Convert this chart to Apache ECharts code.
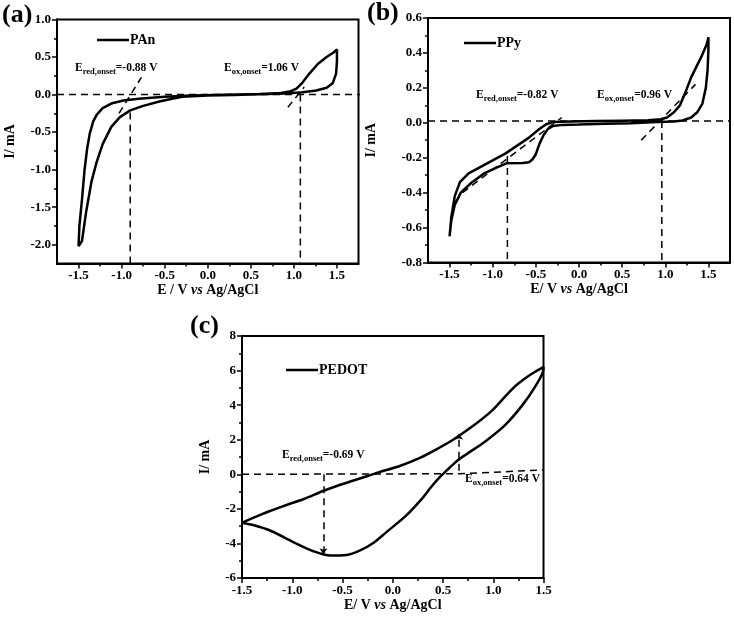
<!DOCTYPE html>
<html><head><meta charset="utf-8">
<script src="https://cdn.jsdelivr.net/npm/echarts@6/dist/echarts.min.js"></script>
<style>html,body{margin:0;padding:0;background:#fff}#c{width:734px;height:625px}</style>
</head><body><div id="c"></div>
<script>
// ---------- data (E / V, I / mA) ----------
const panCurve = [
[-1.50,-2.02],[-1.49,-1.75],[-1.46,-1.40],[-1.43,-1.00],[-1.40,-0.72],[-1.37,-0.52],[-1.33,-0.36],[-1.29,-0.27],[-1.22,-0.18],[-1.12,-0.12],[-0.98,-0.08],[-0.80,-0.055],[-0.50,-0.03],[-0.20,-0.013],[0.20,-0.003],[0.60,0.007],[0.85,0.02],[0.95,0.04],[1.03,0.08],[1.10,0.16],[1.18,0.28],[1.28,0.41],[1.38,0.50],[1.46,0.56],[1.50,0.60],
[1.50,0.45],[1.49,0.28],[1.45,0.15],[1.38,0.09],[1.26,0.055],[1.10,0.03],[0.90,0.015],[0.60,0.003],[0.30,-0.005],[0.00,-0.012],[-0.30,-0.028],[-0.55,-0.09],[-0.75,-0.15],[-0.90,-0.21],[-1.02,-0.30],[-1.12,-0.43],[-1.22,-0.66],[-1.29,-0.90],[-1.35,-1.16],[-1.41,-1.55],[-1.46,-1.95],[-1.50,-2.02]];
const ppyCurve = [
[-1.50,-0.65],[-1.48,-0.54],[-1.44,-0.42],[-1.38,-0.34],[-1.28,-0.29],[-1.15,-0.255],[-1.00,-0.215],[-0.85,-0.175],[-0.70,-0.125],[-0.58,-0.085],[-0.46,-0.036],[-0.38,-0.008],[-0.30,0.004],[-0.10,0.008],[0.20,0.010],[0.50,0.012],[0.80,0.014],[0.95,0.020],[1.02,0.030],[1.10,0.060],[1.17,0.100],[1.23,0.170],[1.30,0.260],[1.36,0.320],[1.42,0.380],[1.48,0.450],[1.50,0.490],
[1.50,0.42],[1.49,0.30],[1.47,0.20],[1.43,0.11],[1.37,0.06],[1.30,0.03],[1.20,0.013],[1.10,0.008],[0.90,0.004],[0.60,-0.002],[0.30,-0.006],[0.00,-0.010],[-0.20,-0.012],[-0.30,-0.018],[-0.36,-0.035],[-0.41,-0.07],[-0.46,-0.122],[-0.50,-0.18],[-0.54,-0.21],[-0.58,-0.226],[-0.65,-0.23],[-0.84,-0.232],[-0.95,-0.255],[-1.10,-0.29],[-1.25,-0.345],[-1.37,-0.40],[-1.44,-0.47],[-1.48,-0.56],[-1.50,-0.65]];
const pedotCurve = [
[-1.50,-2.82],[-1.42,-2.60],[-1.30,-2.30],[-1.21,-2.10],[-1.05,-1.76],[-0.885,-1.43],[-0.70,-0.98],[-0.55,-0.66],[-0.39,-0.36],[-0.25,-0.10],[-0.13,0.13],[0.07,0.48],[0.27,0.95],[0.43,1.43],[0.60,2.00],[0.79,2.76],[0.99,3.70],[1.15,4.70],[1.25,5.25],[1.38,5.80],[1.50,6.20],
[1.50,6.10],[1.42,5.10],[1.29,4.00],[1.12,2.86],[0.92,1.90],[0.73,1.15],[0.645,0.80],[0.56,0.35],[0.47,-0.15],[0.38,-0.75],[0.30,-1.35],[0.135,-2.38],[-0.06,-3.33],[-0.19,-3.96],[-0.33,-4.42],[-0.46,-4.67],[-0.62,-4.70],[-0.79,-4.45],[-0.98,-3.95],[-1.21,-3.28],[-1.38,-2.95],[-1.50,-2.82]];

// guide (dashed) lines, data coords
const panGuides = [
  [[-1.75,0],[1.78,0]],
  [[-0.90,-0.24],[-0.90,-2.25]],
  [[1.075,0],[1.075,-2.25]],
  [[-1.03,-0.25],[-0.77,0.23]],
  [[0.93,-0.17],[1.12,0.10]]
];
const ppyGuides = [
  [[-1.75,0.01],[1.75,0.01]],
  [[-0.83,-0.19],[-0.83,-0.8]],
  [[0.96,0.01],[0.96,-0.8]],
  [[-1.35,-0.40],[-0.20,0.03]],
  [[0.72,-0.10],[1.35,0.22]]
];
const pedotGuides = [
  [[-1.5,0],[0.66,0.03],[1.5,0.25]]
];
const pedotArrows = [
  [[-0.69,0],[-0.69,-4.62]],
  [[0.66,0.2],[0.66,2.35]]
];

// ticks
const aXMajor = [-1.5,-1,-0.5,0,0.5,1,1.5];
const aXMinor = [-1.25,-0.75,-0.25,0.25,0.75,1.25];
const aYMajor = [-2,-1.5,-1,-0.5,0,0.5,1];
const aYMinor = [-1.75,-1.25,-0.75,-0.25,0.25,0.75];
const bYMajor = [-0.8,-0.6,-0.4,-0.2,0,0.2,0.4,0.6];
const bYMinor = [-0.7,-0.5,-0.3,-0.1,0.1,0.3,0.5];
const cYMajor = [-6,-4,-2,0,2,4,6,8];
const cYMinor = [-5,-3,-1,1,3,5,7];

// texts
const names = ['PAn','PPy','PEDOT'];
const annots = [
  ['red,onset','=-0.88 V'],['ox,onset','=1.06 V'],
  ['red,onset','=-0.82 V'],['ox,onset','=0.96 V'],
  ['red,onset','=-0.69 V'],['ox,onset','=0.64 V']
];

// ---------- build ----------
const FONT = "'Liberation Serif','Times New Roman',serif";
const chart = echarts.init(document.getElementById('c'));

const grids = [
  {left:57, top:19.5, width:301.5, height:244},
  {left:428, top:18, width:302, height:244.5},
  {left:242, top:336, width:301.5, height:242}
];
const xr = [[-1.75,1.75],[-1.75,1.75],[-1.5,1.5]];
const yr = [[-2.25,1],[-0.8,0.6],[-6,8]];
const xMaj = [aXMajor,aXMajor,aXMajor], xMin = [aXMinor,aXMinor,aXMinor];
const yMaj = [aYMajor,bYMajor,cYMajor], yMin = [aYMinor,bYMinor,cYMinor];
const yFmt = [v=>v.toFixed(1), v=>v.toFixed(1), v=>v.toFixed(0)];
const xTitles = ['E / V {i|vs} Ag/AgCl','E/ V {i|vs} Ag/AgCl','E/ V {i|vs} Ag/AgCl'];
const yGaps = [40,50,30];

const lab = {fontFamily:FONT, fontWeight:'bold', fontSize:13, color:'#000'};
const nameStyle = {fontFamily:FONT, fontWeight:'bold', fontSize:14, color:'#000',
  rich:{i:{fontFamily:FONT, fontWeight:'bold', fontStyle:'italic', fontSize:14, color:'#000'}}};

const xAxis = [], yAxis = [], series = [], legend = [];
for (let g=0; g<3; g++) {
  xAxis.push({type:'value', gridIndex:g, min:xr[g][0], max:xr[g][1], position:'bottom',
    splitLine:{show:false},
    axisLine:{show:true, onZero:false, lineStyle:{color:'#000', width:2}},
    axisTick:{show:true, customValues:xMaj[g], length:5, lineStyle:{color:'#000', width:1.5}},
    axisLabel:{show:true, customValues:xMaj[g], formatter:v=>v.toFixed(1), margin:6, ...lab},
    name:xTitles[g], nameLocation:'middle', nameGap:17, nameTextStyle:nameStyle});
  xAxis.push({type:'value', gridIndex:g, min:xr[g][0], max:xr[g][1], position:'bottom',
    splitLine:{show:false}, axisLine:{show:false, onZero:false},
    axisTick:{show:true, customValues:xMin[g], length:3, lineStyle:{color:'#000', width:1.5}},
    axisLabel:{show:false}});
  yAxis.push({type:'value', gridIndex:g, min:yr[g][0], max:yr[g][1], position:'left',
    splitLine:{show:false},
    axisLine:{show:true, onZero:false, lineStyle:{color:'#000', width:2}},
    axisTick:{show:true, customValues:yMaj[g], length:5, lineStyle:{color:'#000', width:1.5}},
    axisLabel:{show:true, customValues:yMaj[g], formatter:yFmt[g], margin:6, ...lab},
    name:'I/ mA', nameLocation:'middle', nameGap:yGaps[g], nameTextStyle:nameStyle});
  yAxis.push({type:'value', gridIndex:g, min:yr[g][0], max:yr[g][1], position:'left',
    splitLine:{show:false}, axisLine:{show:false, onZero:false},
    axisTick:{show:true, customValues:yMin[g], length:3, lineStyle:{color:'#000', width:1.5}},
    axisLabel:{show:false}});
}
const curves = [panCurve, ppyCurve, pedotCurve];
const guides = [panGuides, ppyGuides, pedotGuides];
for (let g=0; g<3; g++) {
  series.push({type:'line', name:names[g], xAxisIndex:2*g, yAxisIndex:2*g, data:curves[g],
    showSymbol:false, symbol:'none', smooth: g===2 ? 0.3 : false,
    itemStyle:{color:'#000'},
    lineStyle:{color:'#000', width:2.5}, z:3});
  guides[g].forEach(seg => series.push({type:'line', xAxisIndex:2*g, yAxisIndex:2*g, data:seg,
    showSymbol:false, symbol:'none', silent:true,
    lineStyle:{color:'#000', width:1.5, type:[7,5]}, z:2}));
}
series.push({type:'lines', coordinateSystem:'cartesian2d', xAxisIndex:4, yAxisIndex:4,
  symbol:['none','arrow'], symbolSize:6,
  lineStyle:{color:'#000', width:1.5, type:[7,5], opacity:1},
  data: pedotArrows.map(c => ({coords:c})), z:2});

const legPos = [[97,33],[464,36],[286,363]];
for (let g=0; g<3; g++) {
  legend.push({data:[{name:names[g], icon:'rect'}], left:legPos[g][0], top:legPos[g][1], padding:0,
    itemWidth:32, itemHeight:2.5, itemGap:0, selectedMode:false,
    itemStyle:{color:'#000', borderWidth:0},
    lineStyle:{width:0},
    textStyle:{fontFamily:FONT, fontWeight:'bold', fontSize:14, color:'#000', padding:[0,0,0,-4]}});
}

const annPos = [[75,70],[224,70],[476,97],[597,97],[282,457],[465,481]];
const graphic = [];
annPos.forEach((p,i) => {
  graphic.push({type:'text', left:p[0], top:p[1]-8, z:10, silent:true,
    style:{text:'{e|E}{s|'+annots[i][0]+'}{e|'+annots[i][1]+'}',
      rich:{e:{fontFamily:FONT, fontWeight:'bold', fontSize:11.5, lineHeight:16, fill:'#000'},
            s:{fontFamily:FONT, fontWeight:'bold', fontSize:8.5, lineHeight:9, verticalAlign:'bottom', fill:'#000'}}}});
});
const panelLab = [['(a)',2,2],['(b)',367,0],['(c)',190,313]];
panelLab.forEach(l => graphic.push({type:'text', left:l[1], top:l[2], silent:true,
  style:{text:l[0], font:"bold 26px "+FONT, fill:'#000'}}));

chart.setOption({
  animation:false,
  backgroundColor:'#fff',
  grid: grids.map(g => ({...g, show:true, borderColor:'#000', borderWidth:2, backgroundColor:'transparent'})),
  xAxis, yAxis, series, legend, graphic
});
</script></body></html>
